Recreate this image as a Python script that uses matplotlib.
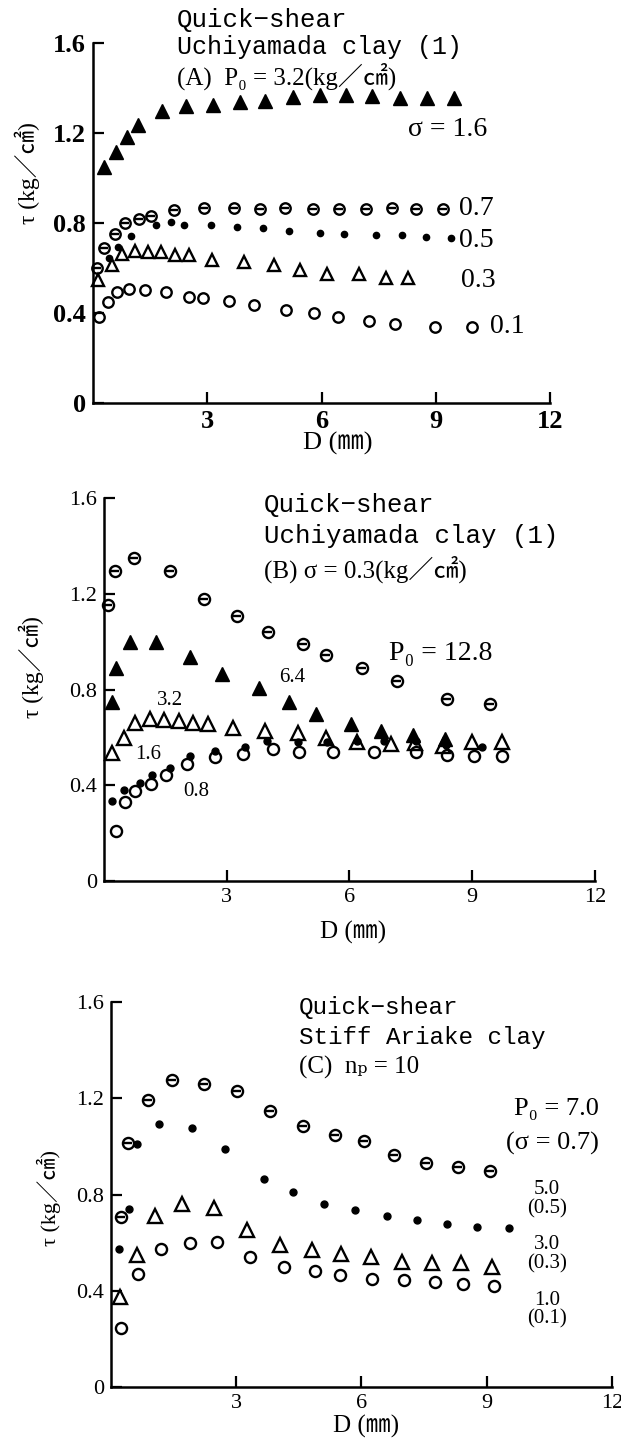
import matplotlib
matplotlib.use("Agg")
import matplotlib.pyplot as plt

SERIF = ["Liberation Serif", "DejaVu Serif", "Noto Sans CJK JP"]
MONO = ["Liberation Mono", "DejaVu Sans Mono"]
plt.rcParams["font.family"] = SERIF

# ---- (A) Uchiyamada clay, P0 = 3.2 ----
a_x_16 = [0.29, 0.60, 0.89, 1.18, 1.80, 2.44, 3.14, 3.85, 4.51, 5.26, 5.96, 6.64, 7.33, 8.05, 8.76, 9.48]
a_y_16 = [1.047, 1.114, 1.180, 1.235, 1.298, 1.320, 1.323, 1.338, 1.342, 1.361, 1.369, 1.369, 1.364, 1.357, 1.354, 1.354]
a_x_07 = [0.11, 0.30, 0.57, 0.85, 1.22, 1.53, 2.13, 2.92, 3.71, 4.39, 5.05, 5.78, 6.46, 7.18, 7.86, 8.48, 9.20]
a_y_07 = [0.600, 0.689, 0.751, 0.801, 0.819, 0.833, 0.858, 0.866, 0.866, 0.863, 0.866, 0.863, 0.860, 0.863, 0.866, 0.863, 0.863]
a_x_05 = [0.41, 0.66, 1.00, 1.66, 2.06, 2.39, 3.09, 3.78, 4.46, 5.15, 5.95, 6.60, 7.43, 8.10, 8.75, 9.40]
a_y_05 = [0.643, 0.693, 0.740, 0.789, 0.804, 0.792, 0.789, 0.782, 0.777, 0.764, 0.757, 0.751, 0.745, 0.748, 0.737, 0.733]
a_x_03 = [0.13, 0.49, 0.75, 1.09, 1.44, 1.79, 2.15, 2.51, 3.13, 3.96, 4.74, 5.43, 6.13, 6.98, 7.69, 8.26]
a_y_03 = [0.546, 0.612, 0.664, 0.675, 0.671, 0.671, 0.659, 0.656, 0.634, 0.627, 0.612, 0.590, 0.575, 0.575, 0.556, 0.556]
a_x_01 = [0.16, 0.39, 0.64, 0.95, 1.36, 1.91, 2.53, 2.88, 3.57, 4.23, 5.06, 5.79, 6.43, 7.24, 7.93, 8.97, 9.95]
a_y_01 = [0.384, 0.447, 0.491, 0.506, 0.501, 0.494, 0.472, 0.468, 0.453, 0.435, 0.413, 0.398, 0.384, 0.364, 0.350, 0.339, 0.336]

# ---- (B) Uchiyamada clay, sigma = 0.3 ----
b_x_128 = [0.10, 0.27, 0.75, 1.62, 2.44, 3.26, 4.01, 4.86, 5.43, 6.30, 7.17, 8.38, 9.44]
b_y_128 = [1.152, 1.296, 1.348, 1.296, 1.179, 1.108, 1.042, 0.991, 0.943, 0.891, 0.836, 0.760, 0.739]
b_x_64 = [0.20, 0.31, 0.65, 1.28, 2.10, 2.88, 3.79, 4.52, 5.19, 6.05, 6.78, 7.55, 8.33]
b_y_64 = [0.746, 0.888, 0.998, 0.998, 0.935, 0.866, 0.808, 0.746, 0.696, 0.655, 0.627, 0.610, 0.595]
b_x_32 = [0.20, 0.50, 0.76, 1.12, 1.47, 1.84, 2.18, 2.54, 3.15, 3.95, 4.74, 5.43, 6.20, 7.01, 7.60, 8.30, 9.00, 9.73]
b_y_32 = [0.535, 0.599, 0.661, 0.675, 0.672, 0.668, 0.661, 0.654, 0.640, 0.627, 0.620, 0.599, 0.579, 0.572, 0.575, 0.565, 0.580, 0.580]
b_x_16 = [0.21, 0.49, 0.89, 1.19, 1.61, 2.10, 2.73, 3.44, 4.00, 4.74, 5.45, 6.20, 6.85, 7.63, 8.35, 9.25]
b_y_16 = [0.334, 0.382, 0.411, 0.441, 0.471, 0.521, 0.544, 0.562, 0.586, 0.579, 0.580, 0.585, 0.586, 0.586, 0.570, 0.561]
b_x_08 = [0.31, 0.51, 0.76, 1.16, 1.51, 2.03, 2.73, 3.41, 4.13, 4.78, 5.59, 6.61, 7.63, 8.38, 9.04, 9.72]
b_y_08 = [0.207, 0.329, 0.375, 0.407, 0.441, 0.489, 0.517, 0.531, 0.551, 0.540, 0.537, 0.540, 0.540, 0.527, 0.523, 0.523]

# ---- (C) Stiff Ariake clay, nP = 10 ----
c_x_70 = [0.24, 0.40, 0.89, 1.47, 2.23, 3.01, 3.80, 4.60, 5.37, 6.07, 6.78, 7.55, 8.30, 9.08]
c_y_70 = [0.705, 1.016, 1.192, 1.276, 1.260, 1.229, 1.148, 1.085, 1.047, 1.023, 0.963, 0.931, 0.914, 0.896]
c_x_50 = [0.20, 0.42, 0.62, 1.15, 1.95, 2.72, 3.66, 4.37, 5.11, 5.85, 6.62, 7.32, 8.04, 8.77, 9.53]
c_y_50 = [0.572, 0.739, 1.012, 1.093, 1.075, 0.991, 0.865, 0.811, 0.762, 0.735, 0.710, 0.693, 0.679, 0.665, 0.661]
c_x_30 = [0.22, 0.62, 1.05, 1.70, 2.46, 3.25, 4.05, 4.82, 5.51, 6.23, 6.96, 7.68, 8.38, 9.12]
c_y_30 = [0.375, 0.550, 0.710, 0.760, 0.743, 0.654, 0.591, 0.570, 0.552, 0.539, 0.521, 0.517, 0.514, 0.500]
c_x_10 = [0.24, 0.64, 1.20, 1.90, 2.55, 3.34, 4.14, 4.88, 5.48, 6.25, 7.03, 7.76, 8.42, 9.17]
c_y_10 = [0.244, 0.468, 0.573, 0.598, 0.602, 0.542, 0.500, 0.483, 0.465, 0.451, 0.444, 0.437, 0.427, 0.422]

x_ticks = [3, 6, 9, 12]
y_ticks = [0, 0.4, 0.8, 1.2, 1.6]
y_ticklabels = ["0", "0.4", "0.8", "1.2", "1.6"]

fig = plt.figure(figsize=(6.21, 14.5), dpi=100)


def setup(ax, tick_size, weight="normal"):
    ax.set_xlim(0, 12)
    ax.set_ylim(0, 1.6)
    ax.spines["top"].set_visible(False)
    ax.spines["right"].set_visible(False)
    for s in ("left", "bottom"):
        ax.spines[s].set_linewidth(1.8)
    ax.set_xticks(x_ticks)
    ax.set_yticks(y_ticks)
    ax.set_yticklabels(y_ticklabels)
    ax.tick_params(direction="in", length=8, width=1.6, labelsize=tick_size, pad=5)
    for lab in ax.get_xticklabels() + ax.get_yticklabels():
        lab.set_fontweight(weight)


def pts(ax, x, y, kind, ms):
    kw = dict(linestyle="none", clip_on=False, color="black")
    if kind == "filled_tri":
        ax.plot(x, y, marker="^", ms=ms, mfc="black", mec="black", **kw)
    elif kind == "open_tri":
        ax.plot(x, y, marker="^", ms=ms, mfc="none", mec="black", mew=1.7, **kw)
    elif kind == "circle":
        ax.plot(x, y, marker="o", ms=ms, mfc="none", mec="black", mew=1.7, **kw)
    elif kind == "theta":
        ax.plot(x, y, marker="o", ms=ms, mfc="none", mec="black", mew=1.7, **kw)
        ax.plot(x, y, marker="_", ms=ms * 0.8, mew=1.7, **kw)
    elif kind == "dot":
        ax.plot(x, y, marker="o", ms=ms, mfc="black", mec="black", **kw)


def txt(ax, x, y, s, size, ha="left", family=None):
    ax.text(x, y, s, fontsize=size, ha=ha, va="center", clip_on=False,
            family=family if family else SERIF)


# ---------------- panel A ----------------
axA = fig.add_axes([0.1498, 0.7221, 0.736, 0.2483])
setup(axA, 19, "bold")
pts(axA, a_x_16, a_y_16, "filled_tri", 10)
pts(axA, a_x_07, a_y_07, "theta", 7.5)
pts(axA, a_x_05, a_y_05, "dot", 4.5)
pts(axA, a_x_03, a_y_03, "open_tri", 9)
pts(axA, a_x_01, a_y_01, "circle", 7.5)
txt(axA, 2.20, 1.70, "Quick\u2212shear", 18.5, family=MONO)
txt(axA, 2.20, 1.58, "Uchiyamada clay (1)", 18, family=MONO)
txt(axA, 2.20, 1.45, "(A)  P\u2080 = 3.2(kg\uff0f\u33a0)", 18)
txt(axA, 8.26, 1.217, "\u03c3 = 1.6", 20)
txt(axA, 9.60, 0.863, "0.7", 20)
txt(axA, 9.60, 0.723, "0.5", 20)
txt(axA, 9.65, 0.546, "0.3", 20)
txt(axA, 10.43, 0.339, "0.1", 20)
fig.text(0.0446, 0.8807, "\u03c4 (kg\uff0f\u33a0)", rotation=90, ha="center", va="center",
         fontsize=17, family=SERIF)
fig.text(0.544, 0.6945, "D (\u339c)", ha="center", va="center", fontsize=19, family=SERIF)

# ---------------- panel B ----------------
axB = fig.add_axes([0.167, 0.3924, 0.791, 0.2641])
setup(axB, 16)
pts(axB, b_x_128, b_y_128, "theta", 8)
pts(axB, b_x_64, b_y_64, "filled_tri", 10)
pts(axB, b_x_32, b_y_32, "open_tri", 9.5)
pts(axB, b_x_16, b_y_16, "dot", 5)
pts(axB, b_x_08, b_y_08, "circle", 8)
txt(axB, 3.92, 1.571, "Quick\u2212shear", 18.5, family=MONO)
txt(axB, 3.92, 1.440, "Uchiyamada clay (1)", 18.5, family=MONO)
txt(axB, 3.92, 1.303, "(B) \u03c3 = 0.3(kg\uff0f\u33a0)", 18)
txt(axB, 6.98, 0.95, "P\u2080 = 12.8", 20)
txt(axB, 4.61, 0.85, "6.4", 15, ha="center")
txt(axB, 1.62, 0.753, "3.2", 15, ha="center")
txt(axB, 1.09, 0.527, "1.6", 15, ha="center")
txt(axB, 2.25, 0.375, "0.8", 15, ha="center")
fig.text(0.0509, 0.540, "\u03c4 (kg\uff0f\u33a0)", rotation=90, ha="center", va="center",
         fontsize=17, family=SERIF)
fig.text(0.568, 0.3572, "D (\u339c)", ha="center", va="center", fontsize=18, family=SERIF)

# ---------------- panel C ----------------
axC = fig.add_axes([0.1787, 0.0434, 0.8068, 0.2655])
setup(axC, 16)
pts(axC, c_x_70, c_y_70, "theta", 8)
pts(axC, c_x_50, c_y_50, "dot", 5)
pts(axC, c_x_30, c_y_30, "open_tri", 9.5)
pts(axC, c_x_10, c_y_10, "circle", 8)
txt(axC, 4.50, 1.578, "Quick\u2212shear", 17.5, family=MONO)
txt(axC, 4.50, 1.454, "Stiff Ariake clay", 17.5, family=MONO)
txt(axC, 4.50, 1.328, "(C)  n\u209a = 10", 18)
txt(axC, 9.65, 1.154, "P\u2080 = 7.0", 19)
txt(axC, 9.46, 1.012, "(\u03c3 = 0.7)", 19)
txt(axC, 10.44, 0.822, "5.0", 15, ha="center")
txt(axC, 10.44, 0.741, "(0.5)", 15, ha="center")
txt(axC, 10.44, 0.591, "3.0", 15, ha="center")
txt(axC, 10.44, 0.511, "(0.3)", 15, ha="center")
txt(axC, 10.44, 0.359, "1.0", 15, ha="center")
txt(axC, 10.44, 0.282, "(0.1)", 15, ha="center")
fig.text(0.0795, 0.1738, "\u03c4 (kg\uff0f\u33a0)", rotation=90, ha="center", va="center",
         fontsize=16, family=SERIF)
fig.text(0.589, 0.0159, "D (\u339c)", ha="center", va="center", fontsize=18, family=SERIF)

fig.savefig("out.png", dpi=100)
